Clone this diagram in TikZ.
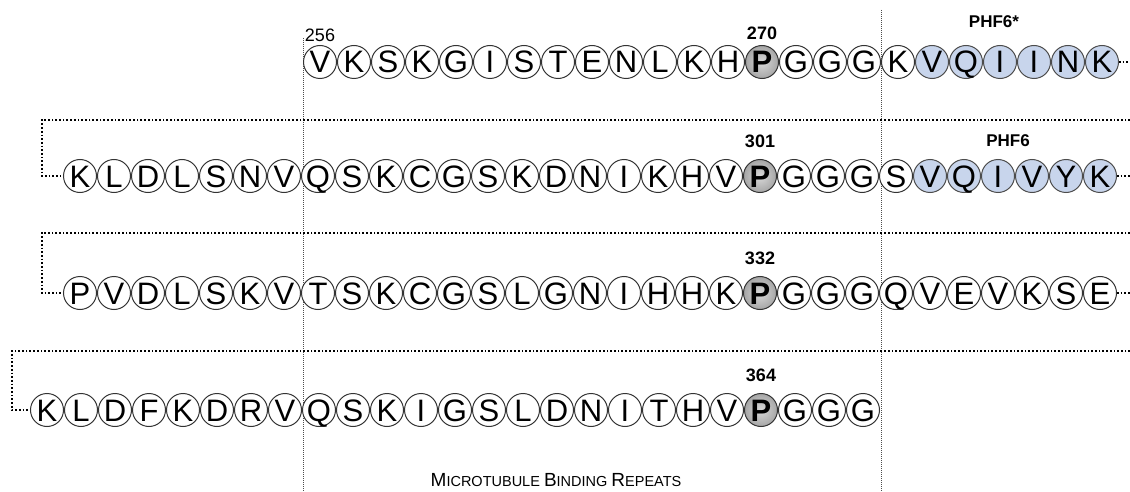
\documentclass[tikz,border=0pt]{standalone}
\usepackage{fontspec}
\setmainfont{Liberation Sans}
\usetikzlibrary{positioning, calc}
\definecolor{phfblue}{RGB}{200,213,236}
\tikzset{
  res/.style={circle, draw=black!80, line width=1pt, minimum size=33pt, inner sep=0pt, fill=white, text height=22pt, text depth=0pt, font=\fontsize{31}{31}\selectfont},
  phf/.style={res, fill=phfblue, draw=black!70},
  pro/.style={res, inner color=gray!30, outer color=gray!70, font=\fontsize{31}{31}\selectfont\bfseries},
  wrapline/.style={line width=1.7pt, dash pattern=on 1.7pt off 2pt},
  repeatline/.style={black!70, line width=0.7pt, dash pattern=on 1pt off 1pt},
  numlabel/.style={font=\fontsize{18}{18}\selectfont\bfseries, inner sep=0pt}
}
\begin{document}
\begin{tikzpicture}[x=1pt, y=-1pt]
\useasboundingbox (0,0) rectangle (1130,492);
\coordinate (leftTop) at (303,38);
\coordinate (leftBottom) at (303,492);
\coordinate (rightTop) at (881,10);
\coordinate (rightBottom) at (881,492);
\draw[repeatline] (leftTop) -- (leftBottom);
\draw[repeatline] (rightTop) -- (rightBottom);

\foreach \aa/\kind [count=\i from 0] in {V/res,K/res,S/res,K/res,G/res,I/res,S/res,T/res,E/res,N/res,L/res,K/res,H/res,P/pro,G/res,G/res,G/res,K/res,V/phf,Q/phf,I/phf,I/phf,N/phf,K/phf}
  \node (ra-\i) [\kind] at (320+\i*34,62) {\aa};
\foreach \aa/\kind [count=\i from 0] in {K/res,L/res,D/res,L/res,S/res,N/res,V/res,Q/res,S/res,K/res,C/res,G/res,S/res,K/res,D/res,N/res,I/res,K/res,H/res,V/res,P/pro,G/res,G/res,G/res,S/res,V/phf,Q/phf,I/phf,V/phf,Y/phf,K/phf}
  \node (rb-\i) [\kind] at (80+\i*34,176) {\aa};
\foreach \aa/\kind [count=\i from 0] in {P/res,V/res,D/res,L/res,S/res,K/res,V/res,T/res,S/res,K/res,C/res,G/res,S/res,L/res,G/res,N/res,I/res,H/res,H/res,K/res,P/pro,G/res,G/res,G/res,Q/res,V/res,E/res,V/res,K/res,S/res,E/res}
  \node (rc-\i) [\kind] at (80+\i*34,293) {\aa};
\foreach \aa/\kind [count=\i from 0] in {K/res,L/res,D/res,F/res,K/res,D/res,R/res,V/res,Q/res,S/res,K/res,I/res,G/res,S/res,L/res,D/res,N/res,I/res,T/res,H/res,V/res,P/pro,G/res,G/res,G/res}
  \node (rd-\i) [\kind] at (47+\i*34,410) {\aa};

\node (start) [above=3pt of ra-0, font=\fontsize{18}{18}\selectfont, inner sep=0pt] {256};
\node (p270) [numlabel, above=5pt of ra-13] {270};
\node (p301) [numlabel, above=11pt of rb-20] {301};
\node (p332) [numlabel, above=11pt of rc-20] {332};
\node (p364) [numlabel, above=11pt of rd-21] {364};
\node (phfStar) [numlabel, font=\fontsize{17}{17}\selectfont\bfseries] at (994,22) {PHF6*};
\node (phf) [numlabel, font=\fontsize{17}{17}\selectfont\bfseries] at (1008,141) {PHF6};

\coordinate (outA) at (1130,62);
\coordinate (outB) at (1130,176);
\coordinate (outC) at (1130,293);
\coordinate (inB) at (1130,120);
\coordinate (inC) at (1130,233);
\coordinate (inD) at (1130,351);
\draw[wrapline] (ra-23.east) -- (outA);
\draw[wrapline] (inB) -- (42,120) |- (rb-0.west);
\draw[wrapline] (rb-30.east) -- (outB);
\draw[wrapline] (inC) -- (42,233) |- (rc-0.west);
\draw[wrapline] (rc-30.east) -- (outC);
\draw[wrapline] (inD) -- (12,351) |- (rd-0.west);

\node (title) at (556,480) {\fontsize{19}{19}\selectfont M\fontsize{14.5}{14.5}\selectfont ICROTUBULE \fontsize{19}{19}\selectfont B\fontsize{14.5}{14.5}\selectfont INDING \fontsize{19}{19}\selectfont R\fontsize{14.5}{14.5}\selectfont EPEATS};
\end{tikzpicture}
\end{document}
